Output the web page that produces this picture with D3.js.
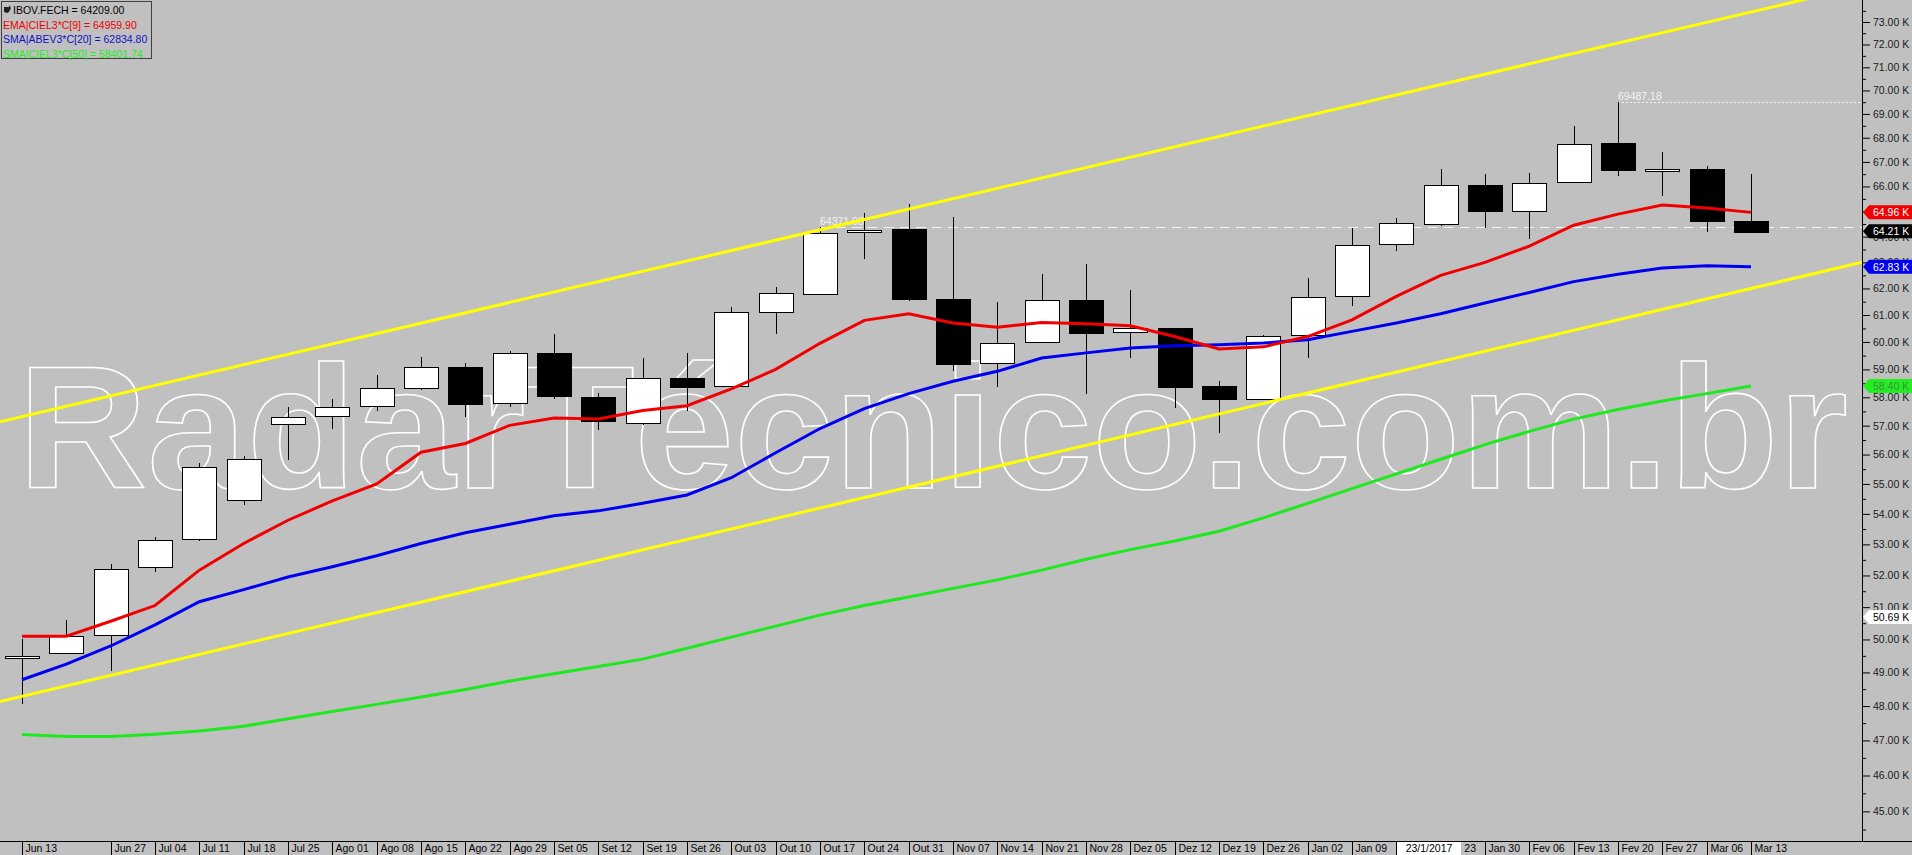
<!DOCTYPE html>
<html>
<head>
<meta charset="utf-8">
<script src="https://cdn.jsdelivr.net/npm/d3@7"></script>
<style>
    body { margin: 0; background: #c0c0c0; overflow: hidden; }
    svg { display: block; }
    text { font-family: "Liberation Sans", Arial, sans-serif; }
</style>
</head>
<body>
<svg id="chart"></svg>
<script>
// weekly candles, IBOV
var dates = ["Jun 13","Jun 20","Jun 27","Jul 04","Jul 11","Jul 18","Jul 25","Ago 01","Ago 08","Ago 15",
    "Ago 22","Ago 29","Set 05","Set 12","Set 19","Set 26","Out 03","Out 10","Out 17","Out 24",
    "Out 31","Nov 07","Nov 14","Nov 21","Nov 28","Dez 05","Dez 12","Dez 19","Dez 26","Jan 02",
    "Jan 09","Jan 16","Jan 23","Jan 30","Fev 06","Fev 13","Fev 20","Fev 27","Mar 06","Mar 13"];
var hiddenLabels = ["Jun 20"];

var open = [49.45,49.58,50.14,52.28,53.19,54.47,57.05,57.35,57.69,58.34,
    59.10,57.78,59.58,58.00,57.10,58.70,58.39,61.11,61.82,64.20,
    64.31,61.61,59.23,60.00,61.57,60.38,60.53,58.42,57.96,60.25,
    61.70,63.70,64.50,66.05,65.02,66.17,67.78,66.66,66.73,64.63];
var high = [50.00,50.60,52.36,53.23,55.70,55.96,57.65,57.95,58.79,59.45,
    59.23,59.67,60.30,58.17,59.40,59.58,61.30,62.05,64.37,64.92,
    65.30,64.77,61.49,62.56,62.95,61.95,60.53,58.59,60.26,62.41,
    64.34,64.72,66.70,66.50,66.55,68.48,69.49,67.40,66.85,66.50];
var low = [48.05,49.55,49.03,52.10,53.10,54.30,55.80,56.90,57.50,58.25,
    57.31,57.65,57.95,56.84,57.01,57.50,58.35,60.30,61.80,63.12,
    61.51,58.93,58.35,60.00,58.12,59.41,57.61,56.75,57.96,59.40,
    61.32,63.43,64.40,64.35,63.90,66.17,66.44,65.60,64.20,64.13];
var close = [49.50,50.10,52.20,53.15,55.58,55.84,57.31,57.65,58.34,59.10,
    57.78,59.58,58.04,57.14,58.70,58.39,61.11,61.82,64.16,64.28,
    61.62,59.22,59.96,61.56,60.35,60.51,58.39,57.96,60.23,61.67,
    63.67,64.53,66.05,65.02,66.15,67.73,66.65,66.73,64.65,64.21];

// indicators
var ema9 = [50.10,50.10,50.56,51.05,52.17,53.03,53.79,54.43,55.00,56.08,
    56.38,57.01,57.27,57.23,57.53,57.70,58.30,59.00,59.95,60.80,
    61.05,60.70,60.54,60.72,60.67,60.60,60.20,59.74,59.82,60.20,
    60.82,61.70,62.50,63.00,63.63,64.45,64.89,65.25,65.13,64.96];
var sma20 = [48.78,49.25,49.80,50.45,51.17,51.55,51.95,52.28,52.63,53.03,
    53.38,53.66,53.94,54.10,54.35,54.63,55.21,56.06,56.90,57.60,
    58.13,58.57,58.93,59.41,59.60,59.78,59.86,59.90,59.96,60.08,
    60.39,60.70,61.05,61.45,61.85,62.26,62.54,62.78,62.87,62.83];
var sma50 = [47.17,47.11,47.11,47.18,47.27,47.41,47.63,47.84,48.05,48.27,
    48.49,48.74,48.96,49.18,49.40,49.73,50.07,50.41,50.75,51.05,
    51.32,51.59,51.86,52.17,52.52,52.83,53.11,53.43,53.87,54.35,
    54.84,55.34,55.84,56.34,56.80,57.23,57.57,57.87,58.13,58.40];

// trend channel (value at first and last week)
var channelIdx = [0, 39];
var upperChannel = [57.32, 73.45];
var lowerChannel = [48.29, 62.00];

// high markers
var markerIdx = [18, 36];
var markerVal = [64.37108, 69.48718];

var legendLines = ["IBOV.FECH = 64209.00", "EMA|CIEL3*C[9] = 64959.90",
    "SMA|ABEV3*C[20] = 62834.80", "SMA|CIEL3*C[50] = 58401.74"];
var cursorDate = "23/1/2017";
var cursorValue = 50.69;

var W = 1912, H = 855;
var plotW = 1862, plotH = 841;

var svg = d3.select("#chart")
    .attr("width", W)
    .attr("height", H);

svg.append("rect").attr("width", W).attr("height", H).attr("fill", "#c0c0c0");

var x = d3.scaleLinear().domain([0, dates.length - 1]).range([22, 1751]);
var y = d3.scaleLog().domain([44.19, 73.99]).range([plotH, 0]);

svg.append("clipPath").attr("id", "plotclip")
    .append("rect").attr("width", plotW).attr("height", plotH);

var plot = svg.append("g").attr("clip-path", "url(#plotclip)");

// watermark
plot.append("text")
    .attr("x", 18)
    .attr("y", 488)
    .attr("textLength", 1830)
    .attr("lengthAdjust", "spacingAndGlyphs")
    .style("font-size", "175px")
    .style("font-weight", "bold")
    .style("fill", "none")
    .style("stroke", "#ffffff")
    .style("stroke-width", 1.6)
    .text("RadarTécnico.com.br");

// high markers (under the candles)
markerIdx.forEach(function (mi, k) {
    var yy = y(markerVal[k]);
    plot.append("line")
        .attr("x1", x(mi)).attr("x2", plotW)
        .attr("y1", Math.round(yy) + 0.5).attr("y2", Math.round(yy) + 0.5)
        .style("stroke", "#f4f4f4")
        .style("stroke-dasharray", k == 0 ? "10,6" : "2,2");
    plot.append("text")
        .attr("x", x(mi))
        .attr("y", yy - 2)
        .style("font-size", "10.5px")
        .style("fill", "#f4f4f4")
        .text(d3.format(".2f")(markerVal[k] * 1000));
});

// candles
var candles = dates.map(function (d, i) {
    return {i: i, o: open[i], h: high[i], l: low[i], c: close[i]};
});
var bodyW = 34;

var cg = plot.append("g").attr("shape-rendering", "crispEdges");
cg.selectAll("line.wick")
    .data(candles)
    .enter()
    .append("line")
    .attr("class", "wick")
    .attr("x1", function (d) { return Math.round(x(d.i)) + 0.5; })
    .attr("x2", function (d) { return Math.round(x(d.i)) + 0.5; })
    .attr("y1", function (d) { return y(d.h); })
    .attr("y2", function (d) { return y(d.l); })
    .style("stroke", "#000");

cg.selectAll("rect.body")
    .data(candles)
    .enter()
    .append("rect")
    .attr("class", "body")
    .attr("x", function (d) { return Math.round(x(d.i) - bodyW / 2) + 0.5; })
    .attr("y", function (d) { return Math.round(y(Math.max(d.o, d.c))) + 0.5; })
    .attr("width", bodyW)
    .attr("height", function (d) { return Math.max(2, Math.round(y(Math.min(d.o, d.c)) - y(Math.max(d.o, d.c)))); })
    .style("fill", function (d) { return d.c >= d.o ? "#ffffff" : "#000000"; })
    .style("stroke", "#000");

// indicator lines
var line = d3.line()
    .x(function (d, i) { return x(i); })
    .y(function (d) { return y(d); });

[[sma50, "#1ee81e"], [sma20, "#0000f0"], [ema9, "#f00000"]].forEach(function (s) {
    plot.append("path")
        .datum(s[0])
        .attr("d", line)
        .style("fill", "none")
        .style("stroke", s[1])
        .style("stroke-width", 3);
});

// channel lines, extended over the whole plot
[upperChannel, lowerChannel].forEach(function (ch) {
    var x0 = x(channelIdx[0]), x1 = x(channelIdx[1]);
    var y0 = y(ch[0]), y1 = y(ch[1]);
    var m = (y1 - y0) / (x1 - x0);
    plot.append("line")
        .attr("x1", 0).attr("y1", y0 - m * x0)
        .attr("x2", plotW).attr("y2", y0 + m * (plotW - x0))
        .style("stroke", "#ffff00")
        .style("stroke-width", 3);
});

// right axis
var majors = d3.range(45, 74);
var minors = d3.range(44.5, 74, 1);

svg.append("g")
    .attr("transform", "translate(" + plotW + ",0)")
    .call(d3.axisRight(y).tickValues(minors).tickSize(4).tickSizeOuter(0).tickFormat(""))
    .call(function (g) { g.select(".domain").remove(); });

var yAxisG = svg.append("g")
    .attr("transform", "translate(" + plotW + ",0)")
    .call(d3.axisRight(y).tickValues(majors).tickSize(8).tickSizeOuter(0).tickPadding(3)
        .tickFormat(function (v) { return d3.format(".2f")(v) + " K"; }));
yAxisG.selectAll("text")
    .style("font-family", "'Liberation Sans', Arial, sans-serif")
    .style("font-size", "10.5px")
    .style("fill", "#1a1a1a");
yAxisG.selectAll("line, path").style("stroke", "#000");
yAxisG.select(".domain").attr("d", "M0.5,0V" + plotH);

// value tags on the axis
var tags = [
    {v: cursorValue, fill: "#ffffff", color: "#000000"},
    {v: sma50[sma50.length - 1], fill: "#22ee22", color: "#3f8f3f"},
    {v: sma20[sma20.length - 1], fill: "#0000f0", color: "#ffffff"},
    {v: close[close.length - 1], fill: "#000000", color: "#ffffff"},
    {v: ema9[ema9.length - 1], fill: "#f00000", color: "#ffffff"}
];
var tg = svg.append("g");
tags.forEach(function (t) {
    var yy = y(t.v);
    tg.append("path")
        .attr("d", "M" + (plotW + 1) + "," + yy + "L" + (plotW + 7) + "," + (yy - 7) +
            "L" + W + "," + (yy - 7) + "L" + W + "," + (yy + 7) + "L" + (plotW + 7) + "," + (yy + 7) + "Z")
        .style("fill", t.fill);
    tg.append("text")
        .attr("x", plotW + 11)
        .attr("y", yy + 4)
        .style("font-size", "10.5px")
        .style("fill", t.color)
        .text(d3.format(".2f")(t.v) + " K");
});

// bottom axis
svg.append("line")
    .attr("x1", 0).attr("x2", W)
    .attr("y1", plotH + 0.5).attr("y2", plotH + 0.5)
    .style("stroke", "#000");

var xg = svg.append("g").attr("shape-rendering", "crispEdges");
dates.forEach(function (d, i) {
    if (hiddenLabels.indexOf(d) >= 0) return;
    var xx = Math.round(x(i)) + 0.5;
    xg.append("line")
        .attr("x1", xx).attr("x2", xx)
        .attr("y1", plotH).attr("y2", H)
        .style("stroke", "#000");
    xg.append("text")
        .attr("x", xx + 3)
        .attr("y", H - 3)
        .style("font-size", "10.5px")
        .style("fill", "#000")
        .text(d);
});

// cursor date box
xg.append("rect")
    .attr("x", 1397).attr("y", plotH + 1)
    .attr("width", 64).attr("height", H - plotH - 1)
    .style("fill", "#ffffff");
xg.append("text")
    .attr("x", 1429).attr("y", H - 3)
    .attr("text-anchor", "middle")
    .style("font-size", "10.5px")
    .style("fill", "#000")
    .text(cursorDate);

// legend
var lg = svg.append("g");
lg.append("rect")
    .attr("x", 1.5).attr("y", 1.5)
    .attr("width", 150).attr("height", 57)
    .style("fill", "#c0c0c0")
    .style("stroke", "#404040");
lg.append("path")
    .attr("d", "M4,7L9,7L9,5L11,8L9,12L7,13L4,12Z")
    .style("fill", "#202020");
var legendColors = ["#000000", "#f00000", "#1010c8", "#22ee22"];
legendLines.forEach(function (t, k) {
    lg.append("text")
        .attr("x", k == 0 ? 13 : 3)
        .attr("y", 14 + k * 14.5)
        .style("font-size", "10.5px")
        .style("fill", legendColors[k])
        .text(t);
});
</script>
</body>
</html>
